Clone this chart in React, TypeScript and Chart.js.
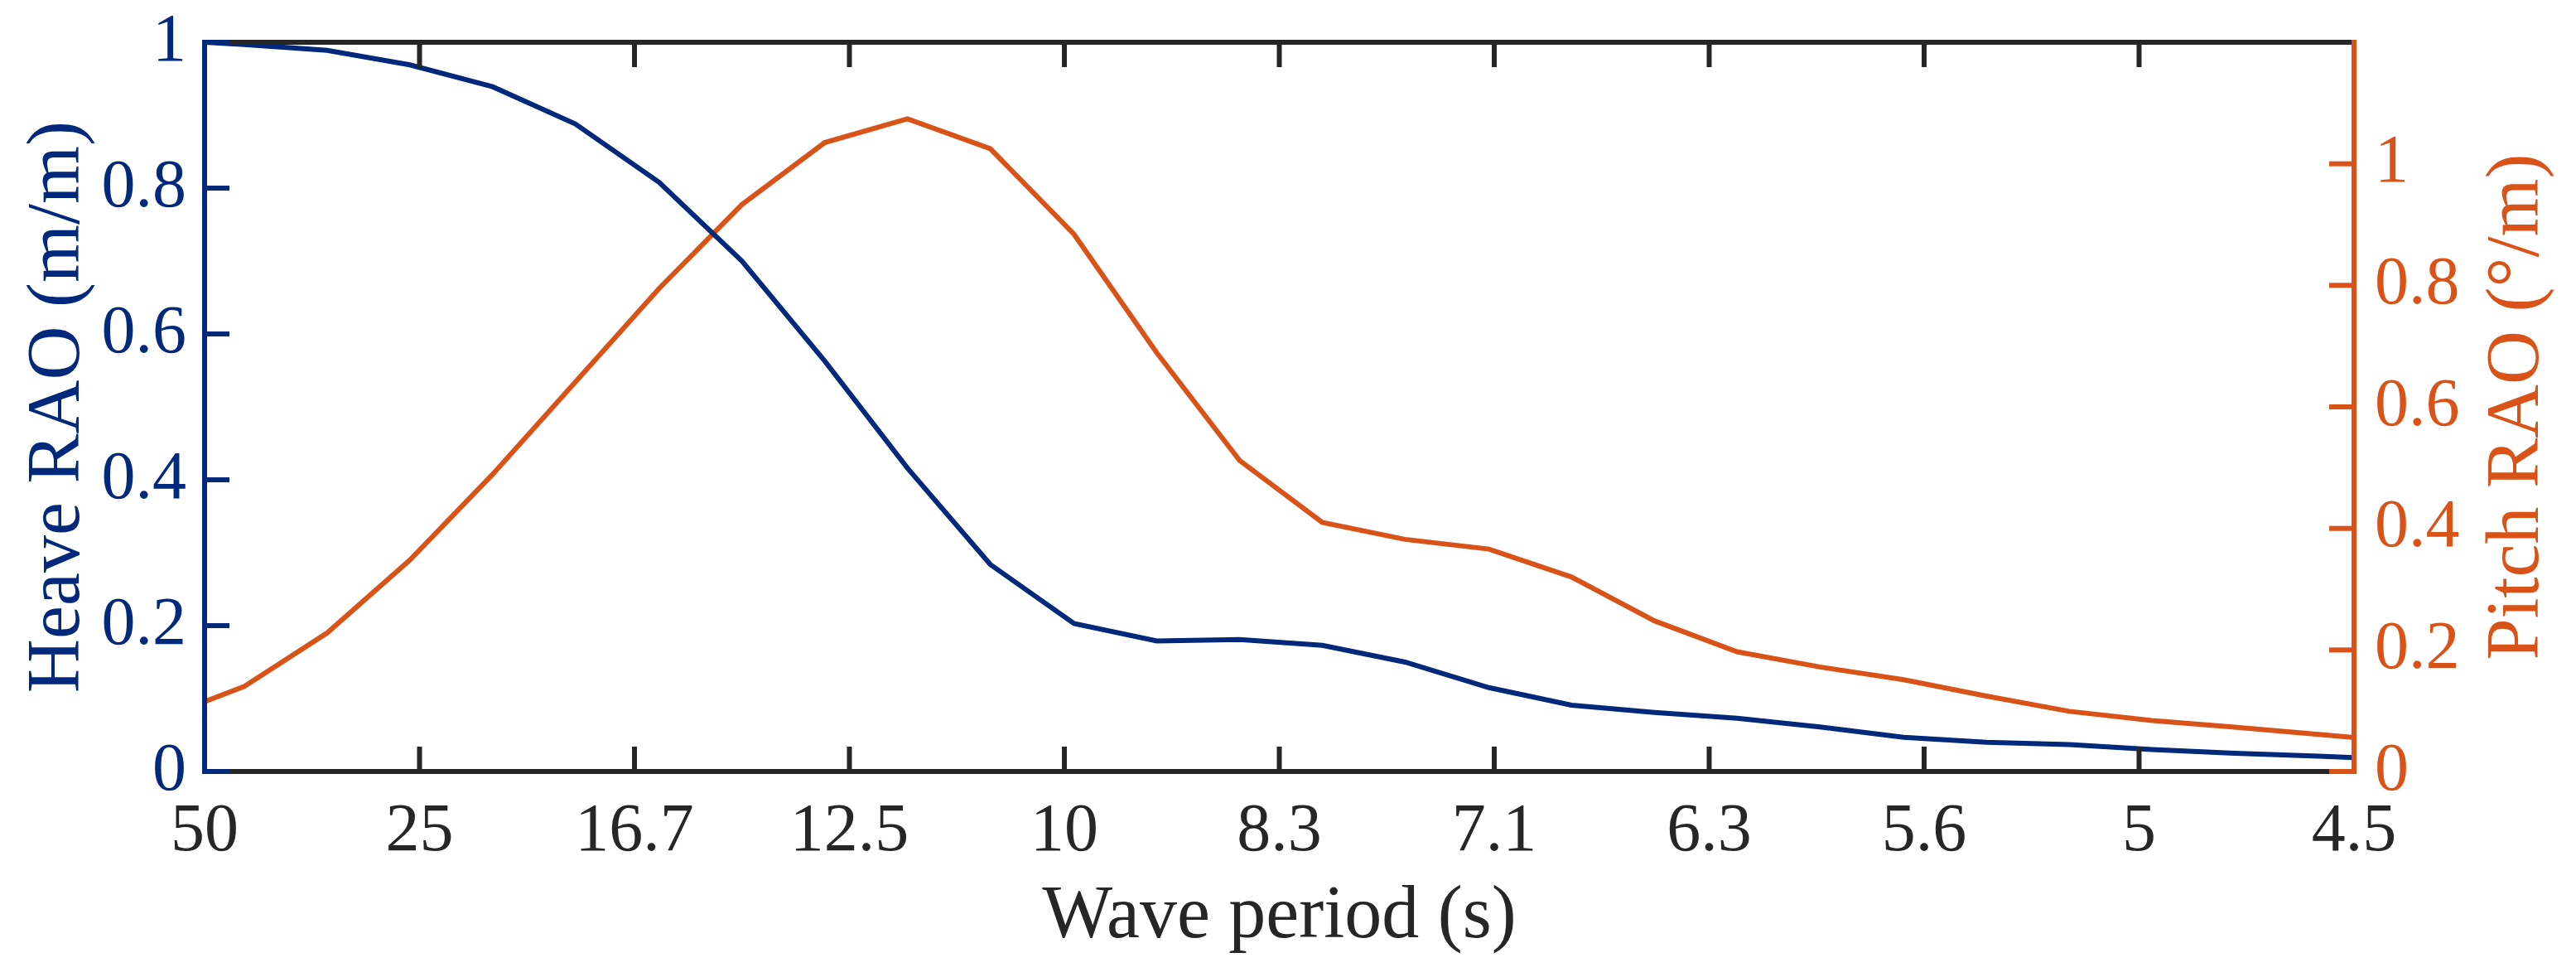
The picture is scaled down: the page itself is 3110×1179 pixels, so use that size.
import React, { useEffect, useRef } from "react";
import { Chart, registerables } from "chart.js";

Chart.register(...registerables);

// wave frequency (Hz) of each computed point
const freqHz = [
  0.02, 0.0237, 0.0314, 0.0391, 0.0468, 0.0545, 0.0623, 0.07, 0.0777, 0.0854,
  0.0931, 0.1009, 0.1086, 0.1163, 0.124, 0.1317, 0.1395, 0.1472, 0.1549, 0.1626,
  0.1703, 0.1781, 0.1858, 0.1935, 0.2012, 0.2089, 0.2167, 0.22,
];

// heave RAO (m/m), left axis
const heaveRAO = [
  1.0, 0.997, 0.989, 0.969, 0.939, 0.888, 0.808, 0.7, 0.563, 0.416,
  0.284, 0.203, 0.179, 0.181, 0.173, 0.15, 0.115, 0.091, 0.081, 0.073,
  0.061, 0.047, 0.04, 0.037, 0.03, 0.025, 0.021, 0.019,
];

// pitch RAO (deg/m), right axis
const pitchRAO = [
  0.115, 0.14, 0.228, 0.348, 0.489, 0.641, 0.795, 0.933, 1.035, 1.074,
  1.025, 0.884, 0.689, 0.512, 0.41, 0.382, 0.366, 0.32, 0.248, 0.197,
  0.172, 0.151, 0.124, 0.099, 0.084, 0.073, 0.061, 0.056,
];

// x ticks sit at even frequencies, labelled with the wave period
const freqTicks = [0.02, 0.04, 0.06, 0.08, 0.1, 0.12, 0.14, 0.16, 0.18, 0.2, 0.22];
const periodLabels = ["50", "25", "16.7", "12.5", "10", "8.3", "7.1", "6.3", "5.6", "5", "4.5"];
const heaveTicks = [0, 0.2, 0.4, 0.6, 0.8, 1];
const pitchTicks = [0, 0.2, 0.4, 0.6, 0.8, 1];

const heaveColor = "#00297c";
const pitchColor = "#d95319";
const axisGrey = "#262626";
const fontFamily = "'Liberation Serif', 'Times New Roman', serif";
const TICK = 30;

// MATLAB-like box: axes drawn over the lines, tick marks pointing inwards
const boxAxes = {
  id: "boxAxes",
  afterDatasetsDraw(chart) {
    const { ctx, chartArea: a, scales } = chart;
    const line = (x1, y1, x2, y2) => {
      ctx.beginPath();
      ctx.moveTo(x1, y1);
      ctx.lineTo(x2, y2);
      ctx.stroke();
    };
    ctx.save();
    ctx.lineWidth = 6;
    ctx.lineCap = "square";

    ctx.strokeStyle = axisGrey;
    line(a.left, a.bottom, a.right, a.bottom);
    line(a.left, a.top, a.right, a.top);
    ctx.lineCap = "butt";
    freqTicks.forEach((v) => {
      const px = scales.x.getPixelForValue(v);
      line(px, a.bottom, px, a.bottom - TICK);
      line(px, a.top, px, a.top + TICK);
    });

    ctx.strokeStyle = heaveColor;
    ctx.lineCap = "square";
    line(a.left, a.top, a.left, a.bottom);
    ctx.lineCap = "butt";
    heaveTicks.forEach((v) => {
      const py = scales.y.getPixelForValue(v);
      line(a.left, py, a.left + TICK, py);
    });

    ctx.strokeStyle = pitchColor;
    ctx.lineCap = "square";
    line(a.right, a.top, a.right, a.bottom);
    ctx.lineCap = "butt";
    pitchTicks.forEach((v) => {
      const py = scales.y1.getPixelForValue(v);
      line(a.right, py, a.right - TICK, py);
    });
    ctx.restore();
  },
  afterDraw(chart) {
    const { ctx, chartArea: a } = chart;
    const midY = (a.top + a.bottom) / 2;
    ctx.save();
    ctx.font = `90px ${fontFamily}`;
    ctx.textAlign = "center";
    ctx.textBaseline = "alphabetic";

    ctx.fillStyle = axisGrey;
    ctx.fillText("Wave period (s)", (a.left + a.right) / 2, a.bottom + 200);

    ctx.fillStyle = heaveColor;
    ctx.save();
    ctx.translate(a.left - 152, midY);
    ctx.rotate(-Math.PI / 2);
    ctx.fillText("Heave RAO (m/m)", 0, 0);
    ctx.restore();

    ctx.fillStyle = pitchColor;
    ctx.save();
    ctx.translate(a.right + 222, midY);
    ctx.rotate(-Math.PI / 2);
    ctx.fillText("Pitch RAO (°/m)", 0, 0);
    ctx.restore();
    ctx.restore();
  },
};

// fixed box sizes so the plot area lands where the reference has it
const fixSize = (w: number | null, h: number | null) => (s) => {
  if (w !== null) s.width = w;
  if (h !== null) s.height = h;
  s.paddingTop = 0;
  s.paddingBottom = 0;
  s.paddingLeft = 0;
  s.paddingRight = 0;
};

export default function App() {
  const canvasRef = useRef<HTMLCanvasElement>(null);

  useEffect(() => {
    document.body.style.margin = "0";
    const canvas = canvasRef.current;
    if (!canvas) return;

    const tickFont = { family: fontFamily, size: 82 };

    const chart = new Chart(canvas, {
      type: "line",
      data: {
        datasets: [
          {
            label: "Heave",
            data: freqHz.map((f, i) => ({ x: f, y: heaveRAO[i] })),
            borderColor: heaveColor,
            borderWidth: 6,
            pointRadius: 0,
            tension: 0,
            yAxisID: "y",
          },
          {
            label: "Pitch",
            data: freqHz.map((f, i) => ({ x: f, y: pitchRAO[i] })),
            borderColor: pitchColor,
            borderWidth: 6,
            pointRadius: 0,
            tension: 0,
            yAxisID: "y1",
          },
        ],
      },
      options: {
        responsive: false,
        animation: false,
        events: [],
        layout: { padding: { top: 51, left: 0, right: 0, bottom: 0 } },
        plugins: { legend: { display: false }, tooltip: { enabled: false } },
        scales: {
          x: {
            type: "linear",
            min: 0.02,
            max: 0.22,
            afterBuildTicks: (s) => {
              s.ticks = freqTicks.map((v) => ({ value: v }));
            },
            afterFit: fixSize(null, 248),
            grid: { display: false, drawTicks: false },
            border: { display: false },
            ticks: {
              autoSkip: false,
              maxRotation: 0,
              padding: 24,
              color: axisGrey,
              font: tickFont,
              callback: (_v, i) => periodLabels[i],
            },
          },
          y: {
            type: "linear",
            position: "left",
            min: 0,
            max: 1,
            afterBuildTicks: (s) => {
              s.ticks = heaveTicks.map((v) => ({ value: v }));
            },
            afterFit: fixSize(247, null),
            grid: { display: false, drawTicks: false },
            border: { display: false },
            ticks: {
              padding: 22,
              color: heaveColor,
              font: tickFont,
              callback: (v) => String(v),
            },
          },
          y1: {
            type: "linear",
            position: "right",
            min: 0,
            max: 1.2,
            afterBuildTicks: (s) => {
              s.ticks = pitchTicks.map((v) => ({ value: v }));
            },
            afterFit: fixSize(268, null),
            grid: { display: false, drawTicks: false },
            border: { display: false },
            ticks: {
              padding: 25,
              color: pitchColor,
              font: tickFont,
              callback: (v) => String(v),
            },
          },
        },
      },
      plugins: [boxAxes],
    });

    return () => {
      chart.destroy();
    };
  }, []);

  return (
    <div style={{ width: 3110, height: 1179, background: "#fff" }}>
      <canvas ref={canvasRef} width={3110} height={1179} style={{ display: "block" }} />
    </div>
  );
}
